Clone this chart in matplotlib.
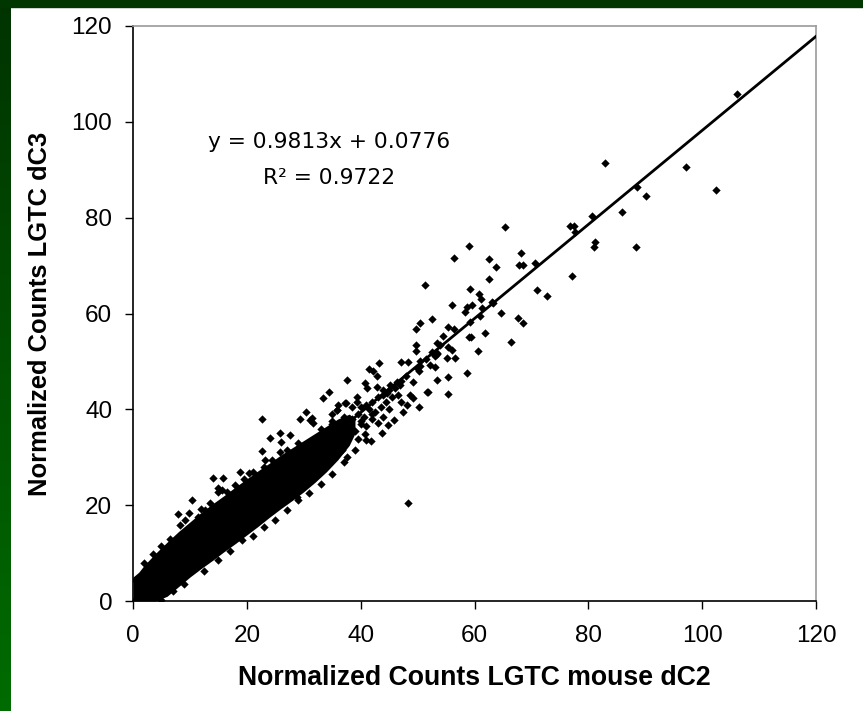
import numpy as np
import matplotlib.pyplot as plt
from matplotlib.colors import LinearSegmentedColormap
from matplotlib.patches import Rectangle

# regression shown on the chart
slope = 0.9813
intercept = 0.0776
r_squared = 0.9722

# saturated core of the cloud (read as lower / upper edges of the black band)
core_x = [0, 1, 2, 4, 6, 8, 10, 12, 14, 16, 18, 20, 22, 24, 26, 28, 30, 32, 34, 36, 38, 39]
core_lo = [0, 0, 0, 0, 1.0, 3.0, 5.0, 6.8, 8.5, 10.3, 12.0, 13.8, 15.6, 17.5, 19.3, 21.0,
           22.8, 24.8, 27.0, 29.5, 32.5, 35.0]
core_hi = [5.0, 6.0, 7.5, 10.0, 12.3, 14.5, 16.5, 18.5, 20.3, 22.0, 23.8, 25.5, 27.2, 28.8,
           30.5, 32.0, 33.5, 35.0, 36.5, 38.0, 39.0, 38.0]

# points along the ragged edges of the band
edge_x = [2.0, 3.5, 5.0, 6.5, 12.0, 13.5, 16.5, 19.5, 21.0, 23.0, 27.0, 29.0, 33.0, 35.0,
          5.0, 7.0, 9.0, 12.5, 15.0, 17.0, 21.0, 23.0, 25.0, 27.0, 31.0, 33.0, 35.0, 37.0,
          39.0, 41.0, 40.0, 42.0]
edge_y = [8.0, 9.8, 11.5, 13.0, 19.2, 20.5, 22.8, 25.5, 27.0, 28.0, 31.5, 33.0, 36.0, 37.5,
          0.3, 2.0, 3.5, 6.3, 8.5, 10.5, 13.5, 15.5, 17.0, 19.0, 22.5, 24.5, 26.5, 29.0,
          31.5, 33.5, 37.5, 39.0]

# individual points around and beyond the core (dC2, dC3)
pts_x = [106.2, 82.9, 97.2, 88.6, 90.2, 102.5, 86.0, 88.4,
         80.7, 81.2, 81.0, 76.8, 77.5, 77.7, 77.2,
         65.4, 59.1, 56.4, 62.6, 63.8, 68.2, 67.8, 68.5, 70.7,
         62.6, 59.2, 60.8, 61.2, 56.1, 58.7, 59.6, 58.3, 61.3,
         63.1, 63.3, 64.7, 67.7, 68.5, 71.0, 72.8,
         55.4, 56.4, 54.5, 59.1, 59.4, 61.9, 59.2, 61.0, 66.4, 60.6,
         51.3, 52.5, 50.4, 49.7, 53.4, 49.7, 49.7, 55.2, 56.6, 53.4,
         47.1, 48.3, 43.2, 41.5, 42.2, 42.9, 52.2, 53.1, 50.3, 53.4,
         55.4, 55.4, 51.8, 49.2, 37.6, 34.4, 33.4, 48.7, 49.2, 48.2, 50.3,
         40.8, 41.1, 39.4, 42.9, 43.9, 44.6, 45.2, 46.4, 46.9,
         37.4, 35.9, 35.0, 30.4, 31.5, 55.4, 56.1, 58.7, 51.7,
         43.8, 41.8, 50.4, 49.9, 48.3, 28.8, 29.0,
         40.0, 41.0, 42.0, 43.0, 44.0, 45.0, 46.0, 47.0, 48.0,
         38.5, 39.5, 40.5, 41.5, 42.5, 44.5, 45.5, 46.5, 43.5,
         38.0, 39.0, 40.0, 41.0, 42.0, 44.0, 45.0, 47.0, 38.5, 37.0, 36.5, 37.5,
         39.5, 40.8, 45.8, 47.5, 44.8, 43.0, 39.3, 36.0, 35.0, 34.0, 36.8, 37.6,
         53.4, 53.1, 50.5, 51.5, 52.5, 54.0,
         22.7, 29.3, 31.1, 25.8, 27.6, 24.1, 26.0, 22.7, 25.8, 23.2, 24.4,
         18.8, 20.4, 14.1, 15.8, 14.9, 14.9, 15.6, 17.9, 10.4, 7.9, 9.8, 9.1,
         8.3, 11.2, 12.7, 11.4, 0.4, 4.2, 31.6, 35.9, 37.3, 19.2]
pts_y = [105.8, 91.4, 90.6, 86.4, 84.6, 85.8, 81.2, 73.9,
         80.4, 74.9, 73.9, 78.3, 78.3, 77.0, 67.8,
         78.1, 74.1, 71.6, 71.4, 69.7, 72.6, 70.1, 70.1, 70.6,
         67.2, 65.1, 64.1, 63.0, 61.8, 61.4, 61.8, 60.3, 61.2,
         62.4, 62.2, 60.1, 59.1, 58.0, 64.9, 63.7,
         57.2, 56.8, 55.3, 55.1, 55.1, 55.9, 58.2, 59.5, 54.1, 52.2,
         66.0, 58.9, 58.0, 56.8, 53.9, 53.4, 52.2, 50.7, 50.7, 51.8,
         49.9, 49.9, 49.7, 48.4, 48.0, 47.0, 49.3, 48.9, 48.0, 46.1,
         46.8, 43.2, 43.6, 45.7, 46.1, 43.6, 42.4, 43.0, 42.4, 40.9, 40.5,
         45.5, 44.5, 42.6, 44.7, 44.0, 43.4, 45.1, 45.7, 45.1,
         41.3, 39.9, 39.0, 39.5, 38.2, 53.0, 52.4, 47.6, 43.6,
         35.1, 33.4, 49.0, 48.6, 20.5, 21.7, 21.0,
         40.5, 41.0, 41.5, 42.5, 43.0, 44.0, 44.5, 46.0, 47.0,
         38.0, 39.0, 38.5, 40.0, 39.5, 41.5, 42.5, 43.0, 40.5,
         36.0, 35.5, 37.0, 36.5, 38.0, 38.5, 40.0, 41.5, 40.5, 38.5, 35.0, 34.5,
         33.8, 34.8, 37.8, 39.5, 36.8, 37.2, 41.5, 41.0, 37.0, 35.5, 31.5, 30.1,
         51.6, 51.1, 50.0, 50.5, 52.0, 53.5,
         38.0, 38.0, 37.8, 35.1, 34.7, 34.0, 33.2, 31.3, 31.1, 29.4, 29.4,
         26.9, 26.7, 25.7, 25.7, 23.6, 22.8, 23.2, 24.2, 21.1, 18.2, 18.4, 16.9,
         15.9, 16.3, 19.0, 17.5, 4.4, 9.0, 37.2, 39.9, 41.3, 12.7]

ticks = [0, 20, 40, 60, 80, 100, 120]

fig = plt.figure(figsize=(8.63, 7.11), dpi=100, facecolor='white')

# slide background: green strip on the left, dark band on top
strip = fig.add_axes([0, 0, 10 / 863, 1])
grad = np.linspace(0, 1, 256).reshape(-1, 1)
strip.imshow(grad, aspect='auto', origin='upper',
             cmap=LinearSegmentedColormap.from_list('g', ['#003300', '#006c00']))
strip.axis('off')
fig.patches.append(Rectangle((0, 1 - 7 / 711), 1, 7 / 711, transform=fig.transFigure,
                             color='#003700', zorder=5))

ax = fig.add_axes([133 / 863, 1 - 601 / 711, 683 / 863, 575 / 711])
ax.fill_between(core_x, core_lo, core_hi, color='black', linewidth=0, zorder=2)
ax.scatter(edge_x, edge_y, marker='D', s=18, color='black', linewidths=0, zorder=3)
ax.scatter(pts_x, pts_y, marker='D', s=18, color='black', linewidths=0, zorder=3)

fit_x = np.array([0, 120])
ax.plot(fit_x, slope * fit_x + intercept, color='black', linewidth=2.0, zorder=4)

ax.set_xlim(0, 120)
ax.set_ylim(0, 120)
ax.set_xticks(ticks)
ax.set_yticks(ticks)
font = 'Liberation Sans'
ax.tick_params(direction='out', length=6, width=1, labelsize=17.5, color='black')
ax.tick_params(axis='x', pad=11)
ax.tick_params(axis='y', pad=9)
for lab in ax.get_xticklabels() + ax.get_yticklabels():
    lab.set_fontfamily(font)

for side in ['left', 'bottom']:
    ax.spines[side].set_color('black')
    ax.spines[side].set_linewidth(1.2)
for side in ['top', 'right']:
    ax.spines[side].set_color('#9a9a9a')
    ax.spines[side].set_linewidth(1.2)

ax.set_xlabel('Normalized Counts LGTC mouse dC2', fontsize=19.2, fontweight='bold',
              family=font, labelpad=13)
ax.set_ylabel('Normalized Counts LGTC dC3', fontsize=18.4, fontweight='bold',
              family=font, labelpad=14)

ax.text(34.4, 95.8, 'y = 0.9813x + 0.0776', ha='center', va='center',
        fontsize=15.7, family='DejaVu Sans')
ax.text(34.4, 88.3, 'R\u00b2 = %.4f' % r_squared, ha='center', va='center',
        fontsize=15.7, family='DejaVu Sans')

fig.savefig('out.png', dpi=100, facecolor='white')
